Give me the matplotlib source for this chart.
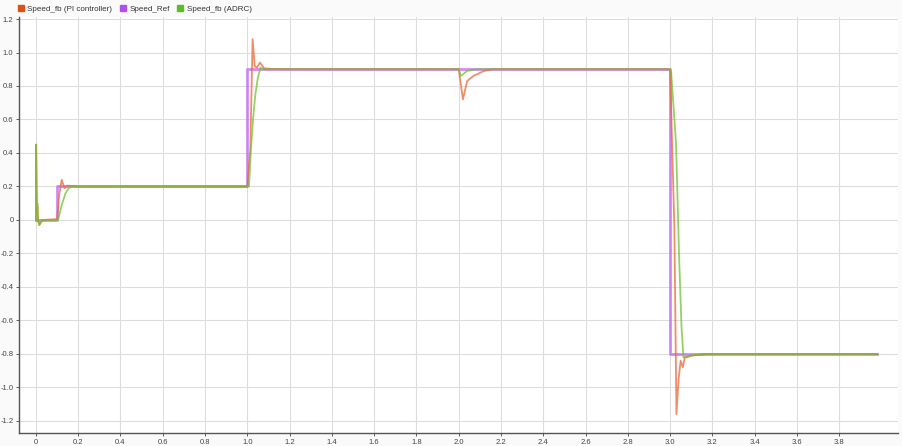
import matplotlib
matplotlib.use("Agg")
import matplotlib.pyplot as plt
from matplotlib.lines import Line2D
import numpy as np

plt.rcParams["font.family"] = ["Liberation Sans", "DejaVu Sans"]

# ---- data ----
series_names = ["Speed_fb (PI controller)", "Speed_Ref", "Speed_fb (ADRC)"]

t_pi = [0.0, 0.001, 0.003, 0.005, 0.007, 0.01, 0.016, 0.03, 0.1, 0.11, 0.122, 0.135, 0.15, 0.2,
        1.0, 1.014, 1.025, 1.035, 1.045, 1.06, 1.08, 1.12, 1.17,
        2.0, 2.02, 2.04, 2.07, 2.12, 2.16,
        3.0, 3.02, 3.03, 3.04, 3.05, 3.06, 3.07, 3.1, 3.18, 3.98]
v_pi = [0.0, 0.45, 0.22, 0.05, 0.08, 0.0, -0.03, 0.0, 0.005, 0.15, 0.24, 0.19, 0.205, 0.2,
        0.2, 0.42, 1.08, 0.92, 0.91, 0.94, 0.905, 0.902, 0.9,
        0.9, 0.72, 0.83, 0.86, 0.89, 0.9,
        0.9, -0.04, -1.16, -0.95, -0.84, -0.88, -0.82, -0.81, -0.8, -0.8]

t_ref = [0.0, 0.1, 0.1, 1.0, 1.0, 3.0, 3.0, 3.98]
v_ref = [0.0, 0.0, 0.2, 0.2, 0.9, 0.9, -0.8, -0.8]

t_adrc = [0.0, 0.001, 0.003, 0.005, 0.007, 0.01, 0.016, 0.03, 0.105, 0.12, 0.14, 0.155, 0.17,
          1.0, 1.008, 1.017, 1.027, 1.037, 1.05, 1.063, 1.075, 1.1,
          2.0, 2.01, 2.02, 2.04, 2.06, 2.08,
          3.0, 3.005, 3.028, 3.043, 3.054, 3.063, 3.08, 3.1, 3.15, 3.98]
v_adrc = [0.0, 0.45, 0.2, 0.03, 0.1, 0.0, -0.03, 0.0, 0.0, 0.08, 0.16, 0.19, 0.2,
          0.2, 0.2, 0.42, 0.6, 0.74, 0.85, 0.91, 0.9, 0.9,
          0.9, 0.86, 0.87, 0.89, 0.895, 0.9,
          0.9, 0.88, 0.46, -0.24, -0.64, -0.82, -0.82, -0.81, -0.8, -0.8]

x_ticks = np.round(np.arange(0, 3.81, 0.2), 1)
y_ticks = np.round(np.arange(-1.2, 1.21, 0.2), 1)

# ---- figure ----
fig = plt.figure(figsize=(9.02, 4.46), dpi=100, facecolor="#fafafa")
ax = fig.add_axes([19 / 902, 13 / 446, 879 / 902, 416 / 446])
ax.set_facecolor("white")

c_pi = "#E8683A"
c_ref = "#C266F2"
c_adrc = "#72C232"

ax.plot(t_ref, v_ref, color=c_ref, lw=2.0, alpha=0.75, zorder=2)
ax.plot(t_pi, v_pi, color=c_pi, lw=1.3, alpha=0.75, zorder=3)
ax.plot(t_adrc, v_adrc, color=c_adrc, lw=1.3, alpha=0.75, zorder=4)

ax.set_xlim(-0.08, 4.078)
ax.set_ylim(-1.272, 1.212)
ax.set_xticks(x_ticks)
ax.set_yticks(y_ticks)
ax.set_xticklabels([f"{v:.1f}" if v != 0 else "0" for v in x_ticks])
ax.set_yticklabels([f"{v:.1f}" if v != 0 else "0" for v in y_ticks])
ax.tick_params(axis="both", labelsize=5.5, colors="#444444", length=2, width=0.6, pad=2)
ax.grid(True, color="#dddddd", lw=0.8)
ax.set_axisbelow(True)
for s in ["top", "right"]:
    ax.spines[s].set_visible(False)
for s in ["left", "bottom"]:
    ax.spines[s].set_color("#555555")
    ax.spines[s].set_linewidth(1.0)

handles = [Line2D([], [], ls="none", marker="s", markersize=4.5, color=c)
           for c in ["#D95319", "#B24FEA", "#5BBE22"]]
fig.legend(handles, series_names, loc="upper left", bbox_to_anchor=(0.008, 1.005),
           ncol=3, frameon=False, fontsize=5.8, handletextpad=0.0, columnspacing=0.5,
           handlelength=1.6, labelcolor="#333333")

fig.savefig("out.png", dpi=100, facecolor=fig.get_facecolor())
